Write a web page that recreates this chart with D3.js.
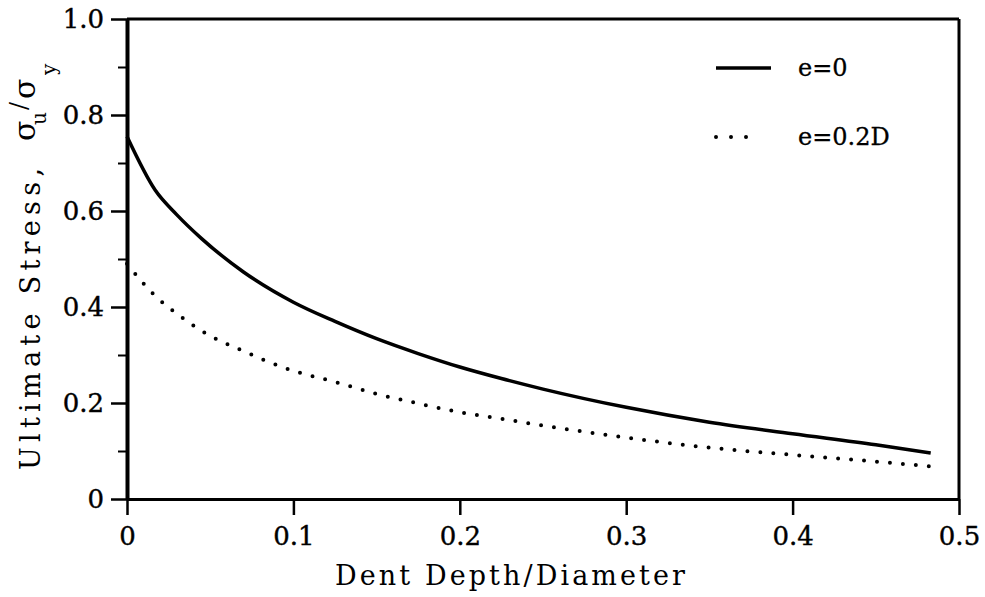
<!DOCTYPE html>
<html>
<head>
    <meta charset="UTF-8">
    <title>Ultimate stress vs dent depth</title>
    <script src="https://d3js.org/d3.v7.min.js"></script>
    <style>
        body { margin: 0; background-color: white; }
        text { font-family: "DejaVu Serif", "Liberation Serif", serif; fill: black; }
    </style>
</head>
<body>
    <div id="chart"></div>
    <script>
        // values
        var depth = [0, 0.017, 0.03, 0.045, 0.07, 0.1, 0.125, 0.15, 0.175, 0.2, 0.225, 0.25, 0.3, 0.35, 0.4, 0.45, 0.483];
        var stressE0 = [0.755, 0.643, 0.592, 0.542, 0.473, 0.41, 0.37, 0.334, 0.303, 0.275, 0.251, 0.229, 0.191, 0.16, 0.136, 0.113, 0.096];
        var stressE02 = [0.49, 0.423, 0.386, 0.35, 0.308, 0.267, 0.244, 0.219, 0.199, 0.181, 0.167, 0.153, 0.128, 0.107, 0.092, 0.078, 0.068];
        var xTicks = [0, 0.1, 0.2, 0.3, 0.4, 0.5];
        var yTicks = [0, 0.2, 0.4, 0.6, 0.8, 1.0];
        var yMinorTicks = [0.1, 0.3, 0.5, 0.7, 0.9];
        var seriesNames = ['e=0', 'e=0.2D'];

        var width = 985, height = 597;
        var margin = { left: 127, right: 26, top: 19, bottom: 98 };

        var svg = d3.select('#chart').append('svg')
            .attr('width', width)
            .attr('height', height);

        var x = d3.scaleLinear().domain([0, 0.5]).range([margin.left, width - margin.right]);
        var y = d3.scaleLinear().domain([0, 1]).range([height - margin.bottom, margin.top]);

        var fmt = function(d) { return d === 0 ? '0' : d3.format('.1f')(d); };

        // minor y ticks
        svg.append('g')
            .attr('transform', 'translate(' + margin.left + ',0)')
            .call(d3.axisLeft(y).tickValues(yMinorTicks).tickSize(9).tickFormat(''))
            .call(function(g) {
                g.select('.domain').remove();
                g.selectAll('line').attr('stroke-width', 2);
            });

        var yAxis = svg.append('g')
            .attr('transform', 'translate(' + margin.left + ',0)')
            .call(d3.axisLeft(y).tickValues(yTicks).tickSize(16).tickSizeOuter(0).tickPadding(7).tickFormat(fmt));
        yAxis.select('.domain').attr('stroke-width', 4);
        yAxis.selectAll('line').attr('stroke-width', 2.5);

        var xAxis = svg.append('g')
            .attr('transform', 'translate(0,' + y(0) + ')')
            .call(d3.axisBottom(x).tickValues(xTicks).tickSize(16).tickSizeOuter(0).tickPadding(12).tickFormat(fmt));
        xAxis.select('.domain').attr('stroke-width', 3);
        xAxis.selectAll('line').attr('stroke-width', 2.5);

        svg.selectAll('.tick text')
            .attr('font-size', 26)
            .attr('stroke', 'black')
            .attr('stroke-width', 0.4)
            .style('font-family', '"DejaVu Serif", serif');

        // top and right frame
        svg.append('line')
            .attr('x1', x(0)).attr('x2', x(0.5))
            .attr('y1', y(1)).attr('y2', y(1))
            .attr('stroke', 'black').attr('stroke-width', 3);
        svg.append('line')
            .attr('x1', x(0.5)).attr('x2', x(0.5))
            .attr('y1', y(1)).attr('y2', y(0))
            .attr('stroke', 'black').attr('stroke-width', 3);

        var line = d3.line()
            .x(function(d) { return x(d[0]); })
            .y(function(d) { return y(d[1]); })
            .curve(d3.curveMonotoneX);

        svg.append('path')
            .datum(d3.zip(depth, stressE0))
            .attr('d', line)
            .attr('fill', 'none')
            .attr('stroke', 'black')
            .attr('stroke-width', 3.5);

        svg.append('path')
            .datum(d3.zip(depth, stressE02))
            .attr('d', line)
            .attr('fill', 'none')
            .attr('stroke', 'black')
            .attr('stroke-width', 4)
            .attr('stroke-linecap', 'round')
            .attr('stroke-dasharray', '0 13');

        // legend
        var legend = svg.selectAll('.legend')
            .data(seriesNames)
            .enter().append('g')
            .attr('class', 'legend')
            .attr('transform', function(d, i) { return 'translate(716,' + (68 + i * 69) + ')'; });

        legend.append('line')
            .attr('x1', 0).attr('x2', function(d, i) { return i === 0 ? 55 : 45; })
            .attr('stroke', 'black')
            .attr('stroke-width', function(d, i) { return i === 0 ? 3.5 : 4; })
            .attr('stroke-linecap', function(d, i) { return i === 0 ? 'butt' : 'round'; })
            .attr('stroke-dasharray', function(d, i) { return i === 0 ? null : '0 15'; });

        legend.append('text')
            .attr('x', 82)
            .attr('y', 8)
            .attr('font-size', 24)
            .attr('stroke', 'black')
            .attr('stroke-width', 0.3)
            .text(function(d) { return d; });

        // axis titles
        svg.append('text')
            .attr('x', 335)
            .attr('y', 585)
            .attr('font-size', 27)
            .attr('textLength', 350)
            .attr('lengthAdjust', 'spacing')
            .text('Dent Depth/Diameter');

        svg.append('text')
            .attr('transform', 'translate(40,470) rotate(-90)')
            .attr('font-size', 27)
            .attr('textLength', 302)
            .attr('lengthAdjust', 'spacing')
            .text('Ultimate Stress,');

        // sigma_u / sigma_y, glyph by glyph along the rotated title
        var sym = [
            { t: 'σ', bx: 35, by: 141, size: 30 },
            { t: 'u', bx: 46, by: 125, size: 20 },
            { t: '/', bx: 27, by: 110, size: 24 },
            { t: 'σ', bx: 35, by: 99, size: 30 },
            { t: 'y', bx: 56, by: 75, size: 20 }
        ];
        svg.selectAll('.sym')
            .data(sym)
            .enter().append('text')
            .attr('class', 'sym')
            .attr('transform', function(d) { return 'translate(' + d.bx + ',' + d.by + ') rotate(-90)'; })
            .attr('font-size', function(d) { return d.size; })
            .text(function(d) { return d.t; });
    </script>
</body>
</html>
